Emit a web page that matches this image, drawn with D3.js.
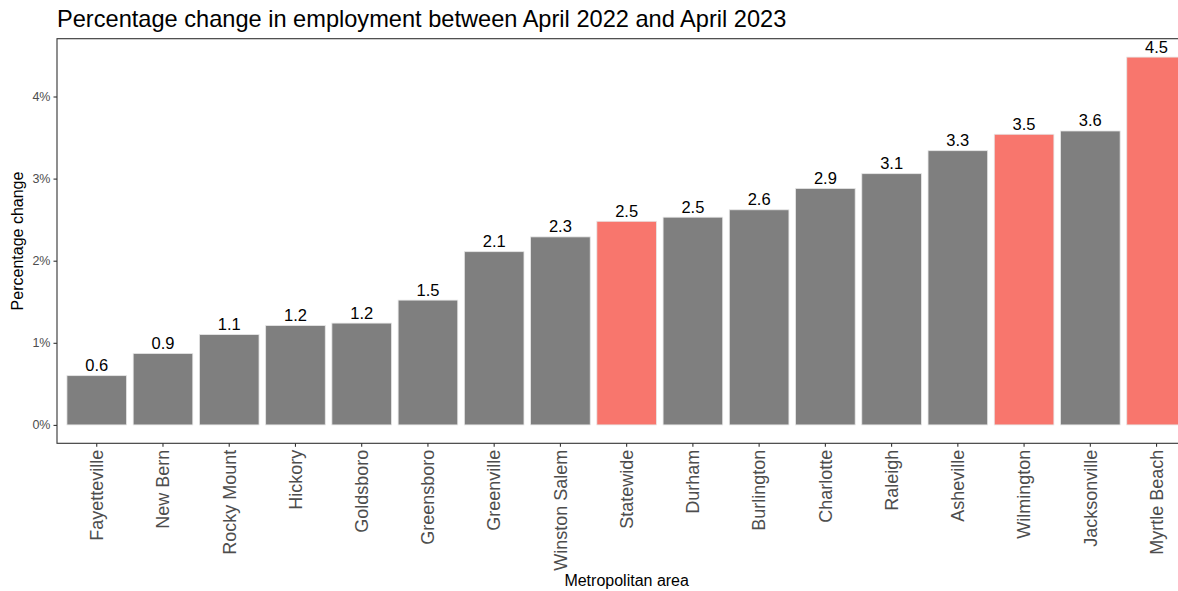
<!DOCTYPE html>
<html><head><meta charset="utf-8">
<script src="https://cdn.jsdelivr.net/npm/d3@7"></script>
<style>body{margin:0;background:#fff;} svg{display:block;font-family:"Liberation Sans",Arial,sans-serif;}</style>
</head><body>
<svg id="c" width="1178" height="591"></svg>
<script>
const areas = ["Fayetteville","New Bern","Rocky Mount","Hickory","Goldsboro","Greensboro","Greenville","Winston Salem","Statewide","Durham","Burlington","Charlotte","Raleigh","Asheville","Wilmington","Jacksonville","Myrtle Beach"];
const changes = [0.60,0.87,1.10,1.21,1.24,1.52,2.11,2.29,2.48,2.53,2.62,2.88,3.06,3.34,3.54,3.58,4.48];
const highlighted = [false,false,false,false,false,false,false,false,true,false,false,false,false,false,true,false,true];
const yTicks = [0,1,2,3,4];
const titleText = "Percentage change in employment between April 2022 and April 2023";

const svg = d3.select("#c");
const L = 57, R = 1196.3, T = 38.7, B = 443.3;
const n = areas.length;
const unit = (R - L) / (n - 1 + 1.2);
const x = d3.scaleBand().domain(areas).range([L + 0.6*unit - 0.5*unit, R - 0.6*unit + 0.5*unit]).paddingInner(0.1).paddingOuter(0.05);
const maxV = d3.max(changes);
const y = d3.scaleLinear().domain([-0.05*maxV, maxV*1.05]).range([B, T]);

// bars
svg.append("g").selectAll("rect").data(areas).join("rect")
  .attr("x", d => x(d)).attr("width", x.bandwidth())
  .attr("y", (d,i) => y(changes[i])).attr("height", (d,i) => y(0) - y(changes[i]))
  .attr("fill", (d,i) => highlighted[i] ? "#F8766D" : "#7F7F7F")
  .attr("stroke", "#e6e6e6").attr("stroke-width", 0.8);

// value labels
svg.append("g").selectAll("text").data(areas).join("text")
  .attr("x", d => x(d) + x.bandwidth()/2)
  .attr("y", (d,i) => y(changes[i]) - 4.5)
  .attr("text-anchor", "middle").attr("font-size", 16.5).attr("fill", "#000")
  .text((d,i) => changes[i].toFixed(1));

// panel border
svg.append("rect").attr("x", L).attr("y", T).attr("width", R - L).attr("height", B - T)
  .attr("fill", "none").attr("stroke", "#333").attr("stroke-width", 1.1);

// y axis
const ya = svg.append("g").attr("transform", `translate(${L},0)`)
  .call(d3.axisLeft(y).tickValues(yTicks).tickSize(3.5).tickPadding(3).tickFormat(d => d + "%"));
ya.select(".domain").remove();
ya.selectAll(".tick line").attr("stroke", "#333").attr("stroke-width", 1.1);
ya.selectAll(".tick text").attr("fill", "#4D4D4D").attr("font-size", 12.5).attr("font-family", "Liberation Sans, Arial, sans-serif");

// x axis
const xa = svg.append("g").attr("transform", `translate(0,${B})`)
  .call(d3.axisBottom(x).tickSize(3.5).tickPadding(3));
xa.select(".domain").remove();
xa.selectAll(".tick line").attr("stroke", "#333").attr("stroke-width", 1.1);
xa.selectAll(".tick text").attr("fill", "#4D4D4D").attr("font-size", 18)
  .attr("font-family", "Liberation Sans, Arial, sans-serif")
  .attr("transform", "rotate(-90)").attr("text-anchor", "end")
  .attr("x", -6.5).attr("y", 0).attr("dy", "0.35em");

// titles
svg.append("text").attr("x", L).attr("y", 27).attr("font-size", 23.6).attr("fill", "#000").text(titleText);
svg.append("text").attr("x", (L + R)/2).attr("y", 586).attr("text-anchor", "middle").attr("font-size", 16).attr("fill", "#000").text("Metropolitan area");
svg.append("text").attr("transform", `translate(23,${(T + B)/2}) rotate(-90)`).attr("text-anchor", "middle").attr("font-size", 16).attr("fill", "#000").text("Percentage change");
</script>
</body></html>
